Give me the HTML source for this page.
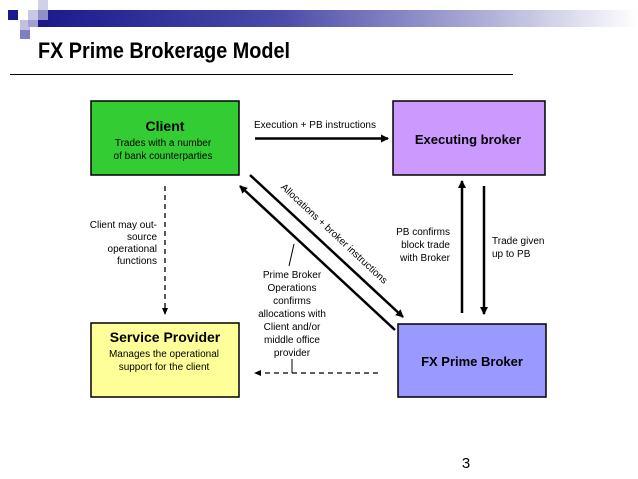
<!DOCTYPE html>
<html><head><meta charset="utf-8"><style>
html,body{margin:0;padding:0;background:#fff;}
svg{display:block;font-family:"Liberation Sans",Arial,sans-serif;}
</style></head><body>
<svg width="638" height="479" viewBox="0 0 638 479" xmlns="http://www.w3.org/2000/svg">
<defs>
<linearGradient id="bar" x1="0" x2="1" y1="0" y2="0">
<stop offset="0" stop-color="#1a1a8c"/>
<stop offset="0.4" stop-color="#4a4aa8"/>
<stop offset="0.75" stop-color="#b0b0d8"/>
<stop offset="1" stop-color="#ffffff"/>
</linearGradient>
<marker id="ah" markerWidth="8" markerHeight="8" refX="7" refY="4" orient="auto" markerUnits="userSpaceOnUse">
<path d="M0,0 L8,4 L0,8 z" fill="#000"/></marker>
<marker id="ahs" markerWidth="7" markerHeight="6" refX="6" refY="3" orient="auto" markerUnits="userSpaceOnUse">
<path d="M0,0 L7,3 L0,6 z" fill="#000"/></marker>
</defs>
<rect x="38" y="10" width="600" height="17" fill="url(#bar)"/>
<rect x="0" y="0" width="38" height="40" fill="#fff"/>
<rect x="8" y="10" width="10" height="10" fill="#1a1a8c"/>
<rect x="28" y="10" width="10" height="10" fill="#c8c8e4"/>
<rect x="38" y="0" width="10" height="10" fill="#d0d0e8"/>
<rect x="38" y="10" width="10" height="10" fill="#9090c8"/>
<rect x="20" y="20" width="10" height="10" fill="#c0c0e0"/>
<rect x="28" y="20" width="10" height="7" fill="#a0a0d0"/>
<rect x="20" y="30" width="10" height="9" fill="#8080c0"/>
<text x="38" y="58" font-size="22" font-weight="bold" fill="#000" textLength="252" lengthAdjust="spacingAndGlyphs">FX Prime Brokerage Model</text>
<line x1="10" y1="74.5" x2="513" y2="74.5" stroke="#000" stroke-width="1"/>

<rect x="91" y="101" width="148" height="74" fill="#33cc33" stroke="#000" stroke-width="1.5"/>
<text x="165" y="131" font-size="14" font-weight="bold" text-anchor="middle">Client</text>
<text x="163" y="146" font-size="10" text-anchor="middle">Trades with a number</text>
<text x="163" y="159" font-size="10" text-anchor="middle">of bank counterparties</text>

<rect x="393" y="101" width="152" height="74" fill="#cc99ff" stroke="#000" stroke-width="1.5"/>
<text x="468" y="144" font-size="13" font-weight="bold" text-anchor="middle">Executing broker</text>

<rect x="91" y="323" width="148" height="74" fill="#ffff99" stroke="#000" stroke-width="1.5"/>
<text x="165" y="342" font-size="14" font-weight="bold" text-anchor="middle">Service Provider</text>
<text x="164" y="357" font-size="10" text-anchor="middle">Manages the operational</text>
<text x="164" y="370" font-size="10" text-anchor="middle">support for the client</text>

<rect x="398" y="324" width="148" height="73" fill="#9999ff" stroke="#000" stroke-width="1.5"/>
<text x="472" y="366" font-size="13" font-weight="bold" text-anchor="middle">FX Prime Broker</text>

<line x1="255" y1="138.5" x2="388" y2="138.5" stroke="#000" stroke-width="2.5" marker-end="url(#ah)"/>
<text x="315" y="128" font-size="10" text-anchor="middle">Execution + PB instructions</text>

<line x1="250" y1="175" x2="403" y2="317" stroke="#000" stroke-width="2.5" marker-end="url(#ah)"/>
<line x1="395" y1="330" x2="240" y2="186" stroke="#000" stroke-width="2.5" marker-end="url(#ah)"/>
<text x="332" y="236" font-size="10" text-anchor="middle" transform="rotate(43 332 236)">Allocations + broker instructions</text>
<line x1="294" y1="244" x2="289" y2="266" stroke="#000" stroke-width="1"/>
<text font-size="10" text-anchor="middle"><tspan x="292" y="278">Prime Broker</tspan><tspan x="292" y="291">Operations</tspan><tspan x="292" y="304">confirms</tspan><tspan x="292" y="317">allocations with</tspan><tspan x="292" y="330">Client and/or</tspan><tspan x="292" y="343">middle office</tspan><tspan x="292" y="356">provider</tspan></text>
<line x1="292" y1="359" x2="292" y2="373" stroke="#000" stroke-width="1"/>

<line x1="462" y1="313" x2="462" y2="181" stroke="#000" stroke-width="2.5" marker-end="url(#ah)"/>
<line x1="484" y1="186" x2="484" y2="314" stroke="#000" stroke-width="2.5" marker-end="url(#ah)"/>
<text font-size="10" text-anchor="end"><tspan x="450" y="235">PB confirms</tspan><tspan x="450" y="248">block trade</tspan><tspan x="450" y="261">with Broker</tspan></text>
<text font-size="10"><tspan x="492" y="244">Trade given</tspan><tspan x="492" y="257">up to PB</tspan></text>

<line x1="165" y1="186" x2="165" y2="314" stroke="#000" stroke-width="1.3" stroke-dasharray="5,4" marker-end="url(#ahs)"/>
<text font-size="10" text-anchor="end"><tspan x="157" y="228">Client may out-</tspan><tspan x="157" y="240">source</tspan><tspan x="157" y="252">operational</tspan><tspan x="157" y="264">functions</tspan></text>

<line x1="378" y1="373" x2="255" y2="373" stroke="#000" stroke-width="1.3" stroke-dasharray="5,4" marker-end="url(#ahs)"/>

<text x="466" y="468" font-size="15" text-anchor="middle">3</text>
</svg>
</body></html>
